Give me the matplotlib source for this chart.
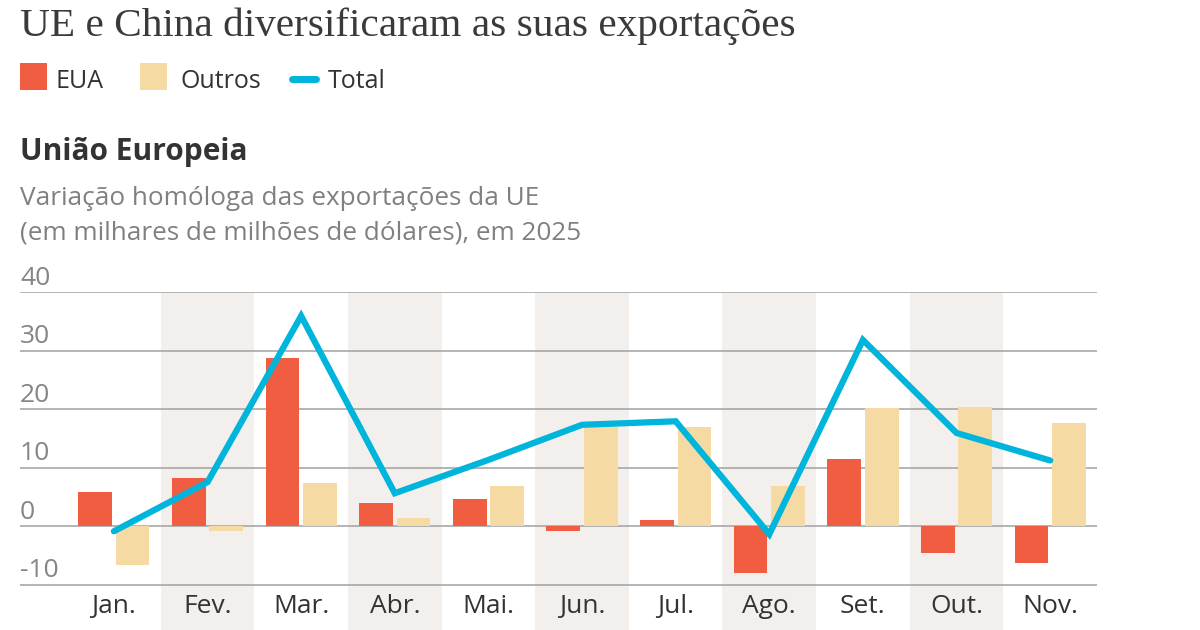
import matplotlib.pyplot as plt
from matplotlib.patches import Rectangle
from matplotlib.lines import Line2D

months = ['Jan.', 'Fev.', 'Mar.', 'Abr.', 'Mai.', 'Jun.', 'Jul.', 'Ago.', 'Set.', 'Out.', 'Nov.']
eua = [5.8, 8.2, 28.7, 3.9, 4.6, -0.8, 1.0, -8.0, 11.5, -4.6, -6.3]
outros = [-6.6, -0.9, 7.3, 1.4, 6.8, 17.3, 17.0, 6.8, 20.1, 20.3, 17.6]
total = [-0.9, 7.5, 35.9, 5.6, 11.3, 17.3, 17.9, -1.4, 31.8, 15.9, 11.2]
yticks = [-10, 0, 10, 20, 30, 40]

RED = '#F05D40'
SAND = '#F5DBA3'
BLUE = '#00B5DB'
BAND = '#F2EFEC'
GRID = '#A8A8A8'

W, H = 1200, 630
fig = plt.figure(figsize=(12, 6.3), dpi=100)
fig.patch.set_facecolor('white')

def fy(px):
    return 1 - px / H

def fx(px):
    return px / W

sans = ['Open Sans', 'DejaVu Sans']

# header texts
fig.text(fx(20), fy(36), 'UE e China diversificaram as suas exportações',
         family=['Liberation Serif', 'DejaVu Serif'], fontsize=29.7, color='#3a3a3a', va='baseline')

# legend
fig.patches.append(Rectangle((fx(20), fy(90)), fx(27), 27 / H, transform=fig.transFigure,
                             facecolor=RED, edgecolor='none'))
fig.text(fx(56), fy(88), 'EUA', family=sans, fontsize=18, color='#333333', va='baseline')
fig.patches.append(Rectangle((fx(140), fy(90)), fx(27), 27 / H, transform=fig.transFigure,
                             facecolor=SAND, edgecolor='none'))
fig.text(fx(180), fy(88), 'Outros', family=sans, fontsize=18, color='#333333', va='baseline')
fig.lines.append(Line2D([fx(292), fx(316)], [fy(79), fy(79)], transform=fig.transFigure,
                        color=BLUE, lw=5, solid_capstyle='round'))
fig.text(fx(328), fy(88), 'Total', family=sans, fontsize=18, color='#333333', va='baseline')

fig.text(fx(20), fy(160), 'União Europeia', family=sans, fontsize=21.5, fontweight='bold',
         color='#333333', va='baseline')
fig.text(fx(20), fy(205), 'Variação homóloga das exportações da UE', family=sans,
         fontsize=18.8, color='#808080', va='baseline')
fig.text(fx(20), fy(239), '(em milhares de milhões de dólares), em 2025', family=sans,
         fontsize=18.8, color='#808080', va='baseline')

# chart area
y_top, y_bot = 292, 630
ax = fig.add_axes([fx(20), 0, fx(1097) - fx(20), (y_bot - y_top) / H])
px_per_unit = (526 - 292) / 40
ymin = 40 - (y_bot - y_top) / px_per_unit
cat_w = 93.5
xmin = -0.5 - (67 - 20) / cat_w
ax.set_xlim(xmin, len(months) - 0.5)
ax.set_ylim(ymin, 40)
ax.axis('off')

for i in range(len(months)):
    if i % 2 == 1:
        ax.axvspan(i - 0.5, i + 0.5, color=BAND, lw=0, zorder=0)

for t in yticks:
    ax.axhline(t, color=GRID, lw=1.2, zorder=1)
    ax.text(xmin, t + 0.2, str(t), family=sans, fontsize=19, color='#858585',
            ha='left', va='bottom')

x = list(range(len(months)))
bw = 0.36
ax.bar([i - 0.2 for i in x], eua, width=bw, color=RED, zorder=2)
ax.bar([i + 0.2 for i in x], outros, width=bw, color=SAND, zorder=2)
ax.plot(x, total, color=BLUE, lw=4.5, solid_capstyle='round', solid_joinstyle='miter', zorder=3)

for i, m in enumerate(months):
    ax.text(i, -13.8, m, family=sans, fontsize=19, color='#333333', ha='center', va='center')

fig.savefig('out.png', dpi=100, facecolor='white')
